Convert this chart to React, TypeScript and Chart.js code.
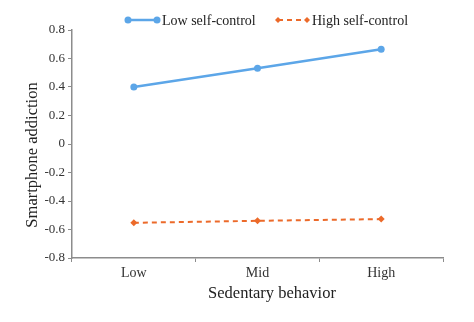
import React, { useEffect, useRef } from "react";
import { Chart, registerables } from "chart.js";

Chart.register(...registerables);

const categories = ["Low", "Mid", "High"];
const lowSelfControl = [0.4, 0.532, 0.665];
const highSelfControl = [-0.553, -0.539, -0.527];
const seriesNames = ["Low self-control", "High self-control"];
const yTitle = "Smartphone addiction";
const xTitle = "Sedentary behavior";

const BLUE = "#5CA6E8";
const ORANGE = "#EC6A2A";
const AXIS = "#8C8C8C";
const FONT = "'Liberation Serif', 'Times New Roman', serif";

const legendPlugin = {
  id: "customLegend",
  afterDraw(chart: any) {
    const ctx = chart.ctx;
    ctx.save();
    const y = 20;
    const items = [
      { x: 128, color: BLUE, dash: [] as number[], style: "circle", label: seriesNames[0], w: 2.5 },
      { x: 278, color: ORANGE, dash: [5, 4], style: "diamond", label: seriesNames[1], w: 2 },
    ];
    for (const it of items) {
      ctx.strokeStyle = it.color;
      ctx.fillStyle = it.color;
      ctx.lineWidth = it.w;
      ctx.setLineDash(it.dash);
      ctx.beginPath();
      ctx.moveTo(it.x, y);
      ctx.lineTo(it.x + 29, y);
      ctx.stroke();
      ctx.setLineDash([]);
      for (const px of [it.x, it.x + 29]) {
        ctx.beginPath();
        if (it.style === "circle") {
          ctx.arc(px, y, 3.5, 0, Math.PI * 2);
        } else {
          ctx.moveTo(px, y - 3);
          ctx.lineTo(px + 3, y);
          ctx.lineTo(px, y + 3);
          ctx.lineTo(px - 3, y);
          ctx.closePath();
        }
        ctx.fill();
      }
      ctx.fillStyle = "#222";
      ctx.font = `14px ${FONT}`;
      ctx.textBaseline = "middle";
      ctx.textAlign = "left";
      ctx.fillText(it.label, it.x + 34, y + 1);
    }
    // axis titles
    ctx.fillStyle = "#222";
    ctx.font = `16.5px ${FONT}`;
    ctx.textAlign = "center";
    ctx.textBaseline = "middle";
    ctx.fillText(xTitle, 272, 294);
    ctx.translate(33, 155);
    ctx.rotate(-Math.PI / 2);
    ctx.fillText(yTitle, 0, 0);
    ctx.restore();
  },
};

export default function App() {
  const ref = useRef<HTMLCanvasElement | null>(null);
  useEffect(() => {
    document.body.style.margin = "0";
    const chart = new Chart(ref.current as HTMLCanvasElement, {
      type: "line",
      data: {
        labels: categories,
        datasets: [
          {
            label: seriesNames[0],
            data: lowSelfControl,
            borderColor: BLUE,
            backgroundColor: BLUE,
            borderWidth: 2.5,
            pointRadius: 3.5,
            pointStyle: "circle",
            pointBorderWidth: 0,
            fill: false,
          },
          {
            label: seriesNames[1],
            data: highSelfControl,
            borderColor: ORANGE,
            backgroundColor: ORANGE,
            borderWidth: 2,
            borderDash: [5, 4],
            pointRadius: 3.5,
            pointStyle: "rectRot",
            pointBorderWidth: 0,
            fill: false,
          },
        ],
      },
      options: {
        animation: false,
        responsive: false,
        maintainAspectRatio: false,
        layout: { padding: { top: 30, right: 31, left: 0, bottom: 0 } },
        plugins: { legend: { display: false }, tooltip: { enabled: false } },
        scales: {
          x: {
            offset: true,
            grid: { offset: true, drawOnChartArea: false, drawTicks: true, tickLength: 4, color: AXIS },
            border: { color: AXIS, width: 1.5 },
            ticks: { color: "#333", font: { family: FONT, size: 14 }, padding: 3 },
            title: { display: false, text: xTitle },
            afterFit(scale: any) {
              scale.height = 64;
            },
          },
          y: {
            min: -0.8,
            max: 0.8,
            ticks: { stepSize: 0.2, color: "#333", font: { family: FONT, size: 13 }, padding: 3 },
            grid: { drawOnChartArea: false, drawTicks: true, tickLength: 4, color: AXIS },
            border: { color: AXIS, width: 1.5 },
            title: { display: false, text: yTitle },
            afterFit(scale: any) {
              scale.width = 72;
            },
          },
        },
      },
      plugins: [legendPlugin],
    });
    return () => chart.destroy();
  }, []);
  return (
    <div style={{ width: 474, height: 322 }}>
      <canvas ref={ref} width={474} height={322} style={{ width: 474, height: 322, display: "block" }} />
    </div>
  );
}
